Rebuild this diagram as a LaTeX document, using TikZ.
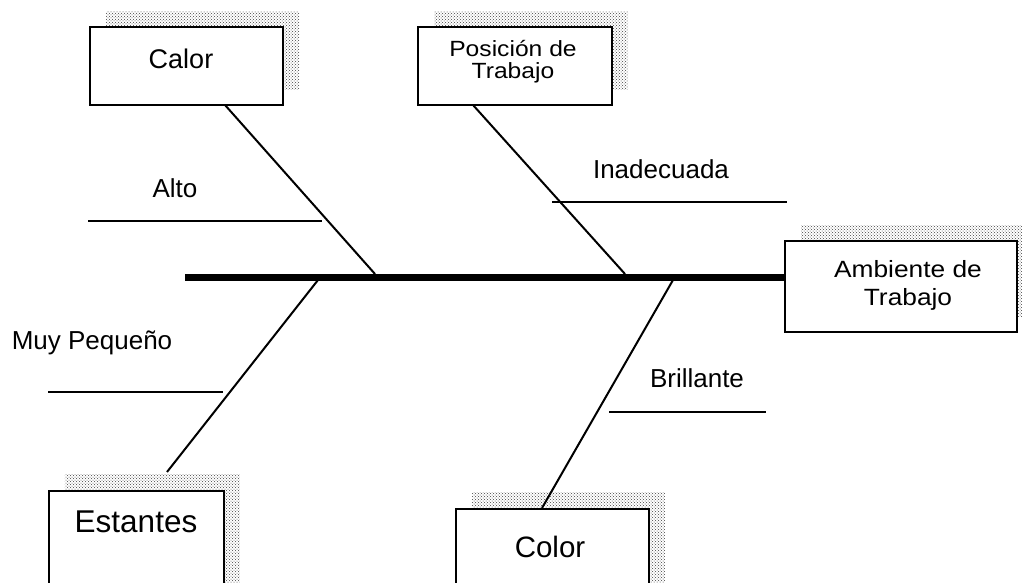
\documentclass[tikz,border=0pt]{standalone}
\usepackage{fontspec}
\setmainfont{Liberation Sans}
\newfontfamily\widesans[FakeStretch=1.12]{Liberation Sans}
\usetikzlibrary{shadows,patterns}

\tikzset{
  causebox/.style={draw=black, line width=1.5pt, fill=white, rectangle, inner sep=0pt,
    general shadow={shadow xshift=16pt, shadow yshift=16pt, pattern=crosshatch dots,
      pattern color=black!75, draw=none}},
  spine/.style={line width=7pt},
  bone/.style={line width=2pt},
  twig/.style={line width=1.3pt},
  lbl/.style={inner sep=0pt, font=\fontsize{26}{28}\selectfont},
  bigname/.style={inner sep=0pt, font=\fontsize{27}{30}\selectfont},
  smallname/.style={inner sep=0pt, align=center},
}

\begin{document}
\begin{tikzpicture}[x=1pt, y=-1pt]
\useasboundingbox (0,0) rectangle (1022,582);
\clip (0,0) rectangle (1022,582);

% cause boxes
\node[causebox, minimum width=193pt, minimum height=78pt] (calor) at (186.5,66) {};
\node[bigname] (calor-t) at (181,59) {Calor};

\node[causebox, minimum width=194pt, minimum height=78pt] (posicion) at (515,66) {};
\node[smallname, font=\widesans\fontsize{22}{22}\selectfont] (posicion-t) at (513,62) {Posición de\\Trabajo};

\node[causebox, minimum width=232pt, minimum height=91pt] (ambiente) at (901,286.5) {};
\node[smallname, font=\widesans\fontsize{23.5}{28}\selectfont] (ambiente-t) at (908,285) {Ambiente de\\Trabajo};

\node[causebox, minimum width=175pt, minimum height=110pt, anchor=north west] (estantes) at (48,490) {};
\node[bigname, font=\fontsize{31.5}{34}\selectfont] (estantes-t) at (136,522) {Estantes};

\node[causebox, minimum width=193pt, minimum height=100pt, anchor=north west] (color) at (455,508) {};
\node[bigname, font=\fontsize{29.5}{32}\selectfont] (color-t) at (550,547) {Color};

% spine
\coordinate (tail) at (185,277);
\draw[spine] (tail) -- (ambiente.west |- tail);

% bones meeting the spine
\coordinate (calor-b) at (225,105);
\coordinate (calor-s) at (375,274);
\coordinate (posicion-b) at (473,105);
\coordinate (posicion-s) at (625,274);
\coordinate (estantes-s) at (318,280);
\coordinate (estantes-b) at (167,472);
\coordinate (color-s) at (673,280);
\coordinate (color-b) at (542,508);
\draw[bone] (calor-b) -- (calor-s);
\draw[bone] (posicion-b) -- (posicion-s);
\draw[bone] (estantes-s) -- (estantes-b);
\draw[bone] (color-s) -- (color-b);

% sub-causes
\node[lbl] (alto) at (175,188) {Alto};
\coordinate (alto-a) at (88,221);
\coordinate (alto-b) at (322,221);
\draw[twig] (alto-a) -- (alto-b);

\node[lbl] (inadecuada) at (661,169) {Inadecuada};
\coordinate (inad-a) at (552,202);
\coordinate (inad-b) at (787,202);
\draw[twig] (inad-a) -- (inad-b);

\node[lbl] (muy) at (92,343) {Muy Pequeño};
\coordinate (muy-a) at (48,392);
\coordinate (muy-b) at (223,392);
\draw[twig] (muy-a) -- (muy-b);

\node[lbl] (brillante) at (697,378) {Brillante};
\coordinate (bri-a) at (609,412);
\coordinate (bri-b) at (766,412);
\draw[twig] (bri-a) -- (bri-b);
\end{tikzpicture}
\end{document}
